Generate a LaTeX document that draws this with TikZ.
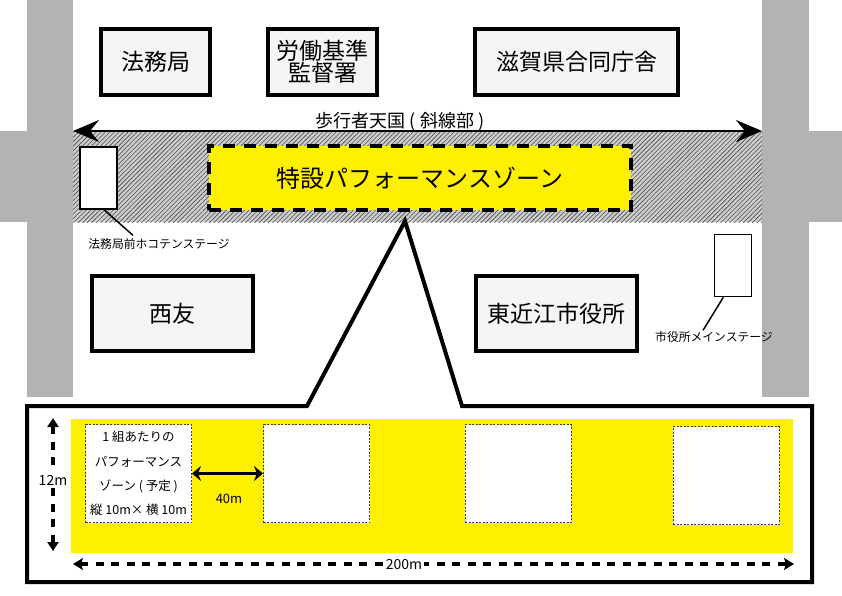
\documentclass[tikz,border=0pt]{standalone}
\usepackage{fontspec}
\setmainfont{Noto Sans CJK JP}
\usetikzlibrary{arrows.meta,patterns.meta,calc}
\definecolor{roadgray}{RGB}{179,179,179}
\definecolor{zoneyellow}{RGB}{255,240,0}
\definecolor{bldgfill}{RGB}{244,245,245}
\begin{document}
\begin{tikzpicture}[x=1pt,y=-1pt,
  bldg/.style={draw, line width=4pt, fill=bldgfill, inner sep=0pt, font=\fontsize{23}{22}\selectfont, align=center},
  stagebox/.style={draw, line width=1.6pt, fill=white, minimum width=37pt, minimum height=62pt, inner sep=0pt},
  smalllabel/.style={font=\fontsize{11.8}{12}\selectfont, inner sep=1pt},
  unitsq/.style={draw=black!75, line width=1pt, dash pattern=on 2pt off 1.5pt, fill=white, minimum width=106pt, minimum height=98pt, inner sep=0pt},
  leader/.style={line width=1.5pt},
  dimlabel/.style={fill=white, inner sep=1.5pt},
  dimline/.style={line width=4pt, dash pattern=on 8pt off 7.5pt},
]
\useasboundingbox (0,0) rectangle (842,595);
\fill[white] (0,0) rectangle (842,595);
% roads
\fill[roadgray] (27,0) rectangle (73,397);
\fill[roadgray] (762,0) rectangle (809,397);
\fill[roadgray] (0,131) rectangle (73,222);
\fill[roadgray] (762,131) rectangle (842,222);
% hatched pedestrian area
\fill[gray!40] (73,131) rectangle (762,222);
\fill[pattern={Lines[angle=45,distance=3.2pt,line width=0.6pt]}, pattern color=black!70] (73,131) rectangle (762,222);
% pedestrian arrow
\coordinate (walkL) at (73,131);
\coordinate (walkR) at (762,131);
\draw[line width=2pt, {Stealth[length=26pt,width=22pt,inset=9pt]}-{Stealth[length=26pt,width=22pt,inset=9pt]}] (walkL) -- (walkR);
\node[font=\fontsize{18}{18}\selectfont] (walklabel) at (400,122) {歩行者天国 ( 斜線部 )};
% buildings
\node[bldg, minimum width=109pt, minimum height=66pt] (houmu) at (155.5,62) {法務局};
\node[bldg, minimum width=109pt, minimum height=66pt] (roudou) at (322.5,62) {労働基準\\監督署};
\node[bldg, minimum width=203pt, minimum height=66pt] (shiga) at (576.5,62) {滋賀県合同庁舎};
\node[bldg, minimum width=161pt, minimum height=75pt] (seiyu) at (172.5,313.5) {西友};
\node[bldg, minimum width=161pt, minimum height=75pt] (city) at (556.5,313.5) {東近江市役所};
% special zone
\node[draw, line width=4.5pt, dash pattern=on 12pt off 9pt, fill=zoneyellow, minimum width=422pt, minimum height=64pt, inner sep=0pt, font=\fontsize{24}{24}\selectfont] (zone) at (420,178) {特設パフォーマンスゾーン};
% stages
\node[stagebox] (stageL) at (98.5,178) {};
\node[stagebox] (stageR) at (733,265.5) {};
\node[smalllabel] (stageLlabel) at (159,244) {法務局前ホコテンステージ};
\node[smalllabel] (stageRlabel) at (714,337) {市役所メインステージ};
\draw[leader] (stageL.-80) -- ($(stageLlabel.north)+(-26,-2)$);
\draw[leader] (stageR.-107) -- ($(stageRlabel.north)+(-11,0)$);
% callout
\draw[line width=4pt, line join=miter] (27,406) -- (307,406) -- (405,221) -- (462,406) -- (812,406) -- (812,582) -- (27,582) -- cycle;
\fill[zoneyellow] (71,419) rectangle (793,553);
\node[unitsq, align=center, font=\fontsize{12.5}{24.3}\selectfont] (sq1) at (138.5,473.5) {1 組あたりの\\パフォーマンス\\ゾーン ( 予定 )\\縦 10m× 横 10m};
\node[unitsq] (sq2) at (316.5,473.5) {};
\node[unitsq] (sq3) at (518,473.5) {};
\node[unitsq] (sq4) at (726,475.5) {};
% dimensions
\draw[line width=3pt, {Stealth[length=9pt,width=15pt,inset=3pt]}-{Stealth[length=9pt,width=15pt,inset=3pt]}] (sq1.east) -- (sq2.west);
\node[font=\fontsize{13}{13}\selectfont] (d40) at (229,499) {40m};
\coordinate (h12top) at (53,418);
\coordinate (h12bot) at (53,551);
\draw[dimline, {Triangle[length=9pt,width=11pt]}-{Triangle[length=9pt,width=11pt]}] (h12top) -- (h12bot);
\node[dimlabel, font=\fontsize{14}{14}\selectfont] (l12) at (53,480) {12m};
\coordinate (w200L) at (73,564);
\coordinate (w200R) at (794,564);
\draw[dimline, {Stealth[length=10pt,width=12pt,inset=2pt]}-{Stealth[length=10pt,width=12pt,inset=2pt]}] (w200L) -- (w200R);
\node[dimlabel, font=\fontsize{14}{14}\selectfont] (l200) at (404,564) {200m};
\end{tikzpicture}
\end{document}
